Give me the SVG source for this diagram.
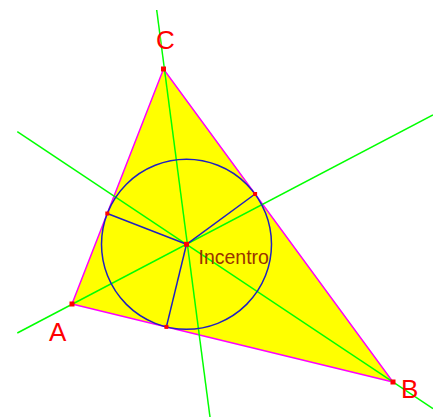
<svg xmlns="http://www.w3.org/2000/svg" width="433" height="417" viewBox="0 0 433 417">
<style>
.tri{fill:#FFFF00;stroke:#FF00FF;stroke-width:1.5}
.bis{stroke:#00FF00;stroke-width:1.5;fill:none}
.rad{stroke:#2020C0;stroke-width:1.5;fill:none}
.pt{fill:#FF0000}
.lbl{font-family:"Liberation Sans",Arial,sans-serif;font-size:26px;fill:#FF0000}
.inc{font-family:"Liberation Sans",Arial,sans-serif;font-size:19.5px;fill:#993300}
</style>
<rect width="433" height="417" fill="#FFFFFF"/>
<g id="triangle"><polygon class="tri" points="72,304 393,382 163.5,69"/></g>
<g id="connectors">
<line class="bis" x1="156.7" y1="10" x2="210" y2="417"/>
<line class="bis" x1="17.3" y1="333" x2="433" y2="115"/>
<line class="bis" x1="17.3" y1="131.7" x2="433" y2="408.7"/>
<circle class="rad" cx="186.5" cy="244.3" r="85"/>
<line class="rad" x1="186.5" y1="244.3" x2="166.4" y2="326.9"/>
<line class="rad" x1="186.5" y1="244.3" x2="107.3" y2="213.5"/>
<line class="rad" x1="186.5" y1="244.3" x2="255.1" y2="194"/>
</g>
<g id="A"><rect class="pt" x="69.5" y="301.5" width="5" height="5"/><text class="lbl" x="49" y="341">A</text></g>
<g id="B"><rect class="pt" x="390.5" y="379.5" width="5" height="5"/><text class="lbl" x="401" y="398">B</text></g>
<g id="C"><rect class="pt" x="161" y="66.5" width="5" height="5"/><text class="lbl" x="156" y="49">C</text></g>
<g id="I"><rect class="pt" x="184" y="241.8" width="5" height="5"/><text class="inc" x="198.5" y="264">Incentro</text></g>
<g id="T1"><rect class="pt" x="164.4" y="324.9" width="4" height="4"/></g>
<g id="T2"><rect class="pt" x="105.3" y="211.5" width="4" height="4"/></g>
<g id="T3"><rect class="pt" x="253.1" y="192" width="4" height="4"/></g>
</svg>
